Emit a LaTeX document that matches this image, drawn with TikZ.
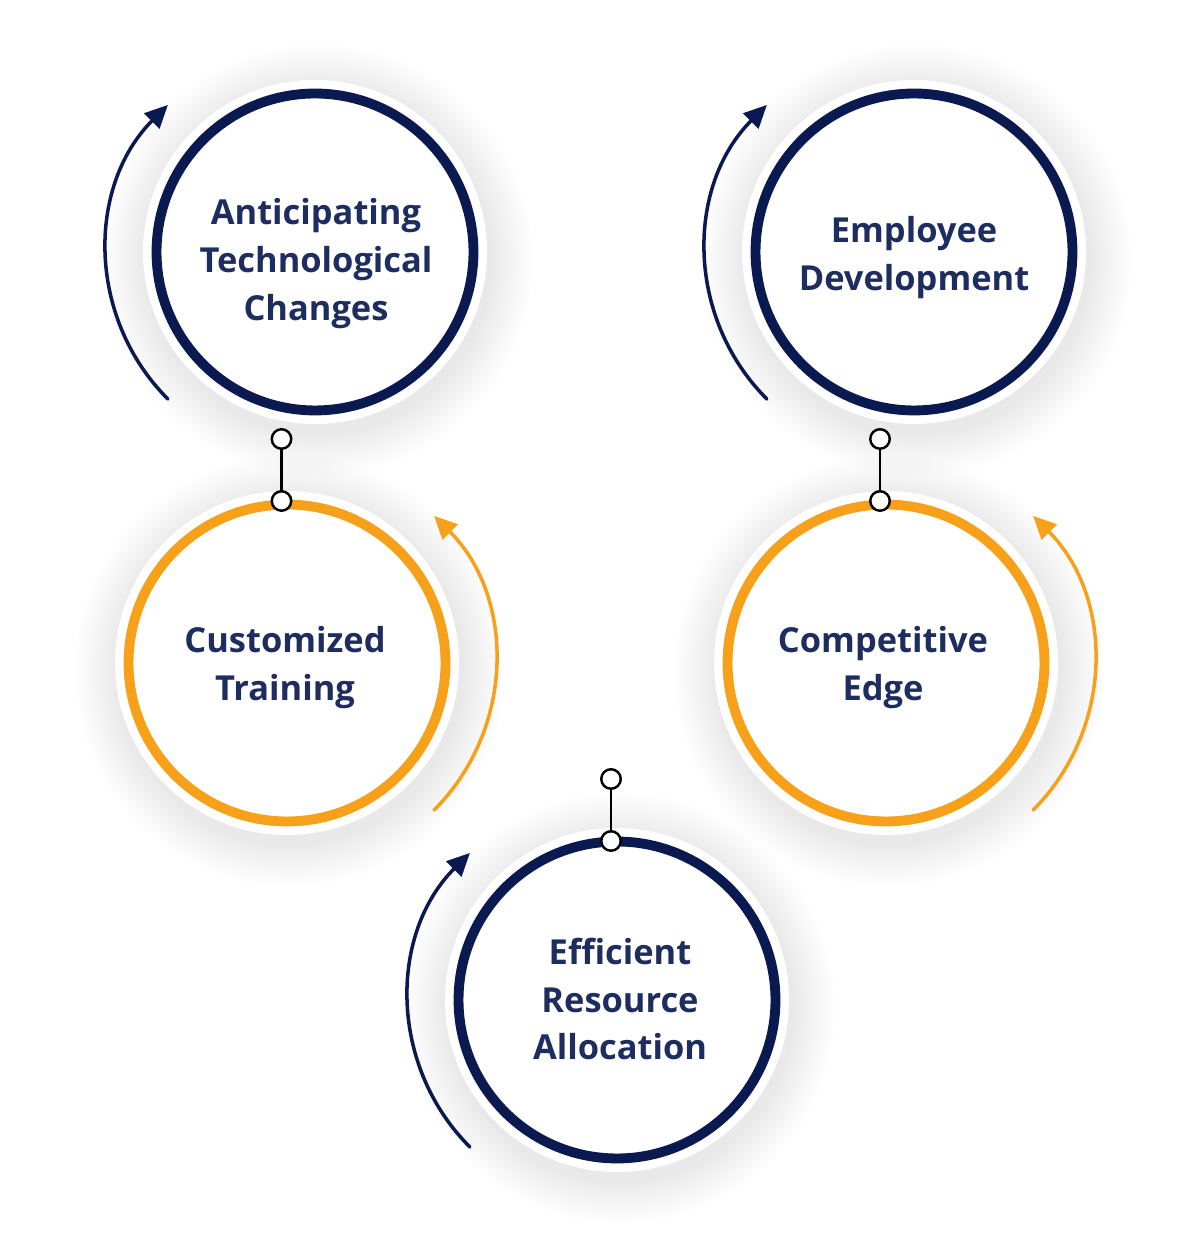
\documentclass[tikz,border=0pt]{standalone}
\usepackage{fontspec}
\setmainfont{Open Sans}
\usetikzlibrary{arrows.meta,positioning}
\definecolor{navy}{RGB}{10,25,80}
\definecolor{amber}{RGB}{247,160,26}
\definecolor{ink}{RGB}{30,45,95}
\tikzset{
  ring/.style     = {circle, draw, line width=5.6pt, fill=white, minimum size=6.34cm, inner sep=0pt},
  navyring/.style = {ring, draw=navy},
  amberring/.style= {ring, draw=amber},
  txt/.style      = {align=center, text=ink, font=\fontsize{19.6}{27.3}\selectfont\bfseries},
  pin/.style      = {circle, draw=black, fill=white, line width=1.4pt, minimum size=0.39cm, inner sep=0pt},
  cyc/.style      = {line width=2pt, line cap=round, -{Triangle[length=13pt, width=12pt]}},
}

\begin{document}
\begin{tikzpicture}[x=0.02cm, y=0.02cm]
    \useasboundingbox[fill=white] (0,0) rectangle (1201,1253);

    % Soft halo under each circle
    \foreach \c in {(315,1001),(914,1001),(287,590),(886,590),(617,253)} {
      \foreach \r in {174,176,...,216}
        \fill[black, opacity=0.0035] \c ++(3,-8) circle[radius=\r];
      \fill[white] \c circle[radius=172];
    }

    % Five circles
    \node[navyring]  (tech)  at (315,1001) {};
    \node[navyring]  (dev)   at (914,1001) {};
    \node[amberring] (train) at (287,590)  {};
    \node[amberring] (edge)  at (886,590)  {};
    \node[navyring]  (alloc) at (617,253)  {};

    % Pins between circles
    \node[pin] (tchA) at (281.5,814) {};
    \node[pin] (tchB) at (281.5,752) {};
    \node[pin] (devA) at (880,814) {};
    \node[pin] (devB) at (880,752) {};
    \node[pin] (alcA) at (611,474) {};
    \node[pin] (alcB) at (611,412) {};
    \draw[line width=1.4pt] (tchA) -- (tchB);
    \draw[line width=1.4pt] (devA) -- (devB);
    \draw[line width=1.4pt] (alcA) -- (alcB);

    % Cycle arrows
    \draw[cyc, navy]  (tech.center)  ++(225:208) arc[start angle=225, end angle=135, radius=208];
    \draw[cyc, navy]  (dev.center)   ++(225:208) arc[start angle=225, end angle=135, radius=208];
    \draw[cyc, amber] (train.center) ++(-45:208) arc[start angle=-45, end angle=45, radius=208];
    \draw[cyc, amber] (edge.center)  ++(-45:208) arc[start angle=-45, end angle=45, radius=208];
    \draw[cyc, navy]  (alloc.center) ++(225:208) arc[start angle=225, end angle=135, radius=208];

    % Labels
    \node[txt] (techT)  at (316,989)   {Anticipating\\Technological\\Changes};
    \node[txt] (devT)   at (914,995)   {Employee\\Development};
    \node[txt] (trainT) at (285,585)   {Customized\\Training};
    \node[txt] (edgeT)  at (883,585)   {Competitive\\Edge};
    \node[txt] (allocT) at (620,254)   {Efficient\\Resource\\Allocation};
\end{tikzpicture}
\end{document}
